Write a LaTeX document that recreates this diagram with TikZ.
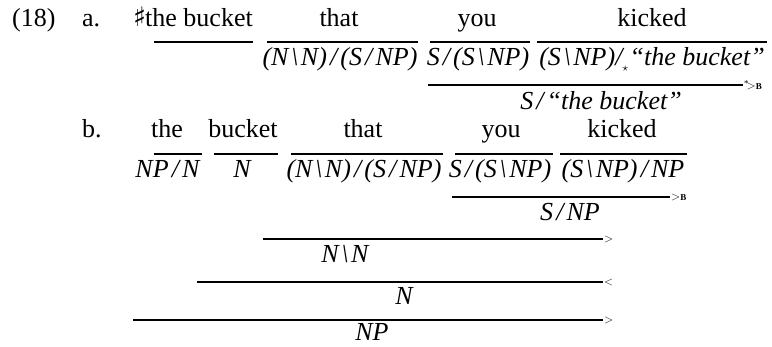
\documentclass[tikz,border=0pt]{standalone}
\usepackage{fontspec}
\setmainfont{Liberation Serif}
\newfontfamily\dejavu{DejaVu Sans}
\newcommand{\Sl}{\hspace{0.12em}/\hspace{0.12em}}
\newcommand{\Bs}{\hspace{0.1em}\textbackslash\hspace{0.1em}}
\newcommand{\Str}{\raisebox{-6pt}{\fontsize{12}{12}\selectfont$\star$}}
\begin{document}
\begin{tikzpicture}[x=1pt,y=-1pt,
  wd/.style={anchor=base,inner sep=0pt,font=\fontsize{26}{30}\selectfont},
  ct/.style={anchor=base,inner sep=0pt,font=\fontsize{26}{30}\selectfont\itshape},
  rl/.style={line width=2.2pt},
  lb/.style={anchor=west,inner sep=0pt,font=\fontsize{12}{14}\selectfont}]
\useasboundingbox (0,0) rectangle (772,346);
% ---- (18a)
\node[wd,anchor=base west] (num) at (12,26) {(18)};
\node[wd,anchor=base west] (la) at (82,26) {a.};
\node[wd,anchor=base east] (a1) at (253,26) {{\dejavu\fontsize{27}{30}\selectfont ♯}\hspace{-1pt}the bucket};
\node[wd] (a2) at (339,26) {that};
\node[wd] (a3) at (477,26) {you};
\node[wd] (a4) at (652,26) {kicked};
\draw[rl] (154,42) -- (253,42);
\draw[rl] (267,42) -- (418,42);
\draw[rl] (430,42) -- (530,42);
\draw[rl] (537,42) -- (767,42);
\node[ct] (ac2) at (340,65) {(N\Bs N)\Sl(S\Sl NP)};
\node[ct] (ac3) at (478,65) {S\Sl(S\Bs NP)};
\node[ct] (ac4) at (652,65) {(S\Bs NP)/\Str\hspace{0.05em}“the bucket”};
\draw[rl] (428,85) -- (743,85);
\node[lb] (al) at (744,85) {\raisebox{3pt}{\fontsize{9}{10}\selectfont *}$\!>$\textbf{\fontsize{9}{10}\selectfont B}};
\node[ct] (ar) at (601,109) {S\Sl“the bucket”};
% ---- (18b)
\node[wd,anchor=base west] (lb) at (82,137) {b.};
\node[wd] (b1) at (167,137) {the};
\node[wd] (b2) at (243,137) {bucket};
\node[wd] (b3) at (363,137) {that};
\node[wd] (b4) at (501,137) {you};
\node[wd] (b5) at (622,137) {kicked};
\draw[rl] (154,154) -- (202,154);
\draw[rl] (214,154) -- (278,154);
\draw[rl] (291,154) -- (443,154);
\draw[rl] (455,154) -- (553,154);
\draw[rl] (560,154) -- (687,154);
\node[ct] (bc1) at (167.5,177) {NP\Sl N};
\node[ct] (bc2) at (242,177) {N};
\node[ct] (bc3) at (364,177) {(N\Bs N)\Sl(S\Sl NP)};
\node[ct] (bc4) at (500,177) {S\Sl(S\Bs NP)};
\node[ct] (bc5) at (623,177) {(S\Bs NP)\Sl NP};
\draw[rl] (452,197) -- (670,197);
\node[lb] (l1) at (671,197) {$>$\textbf{\fontsize{9}{10}\selectfont B}};
\node[ct] (r1) at (570,220) {S\Sl NP};
\draw[rl] (263,239) -- (603,239);
\node[lb] (l2) at (604,239) {$>$};
\node[ct] (r2) at (345,262) {N\Bs N};
\draw[rl] (197,282) -- (603,282);
\node[lb] (l3) at (604,282) {$<$};
\node[ct] (r3) at (404,304) {N};
\draw[rl] (133,320) -- (603,320);
\node[lb] (l4) at (604,320) {$>$};
\node[ct] (r4) at (372,340) {NP};
\end{tikzpicture}
\end{document}
